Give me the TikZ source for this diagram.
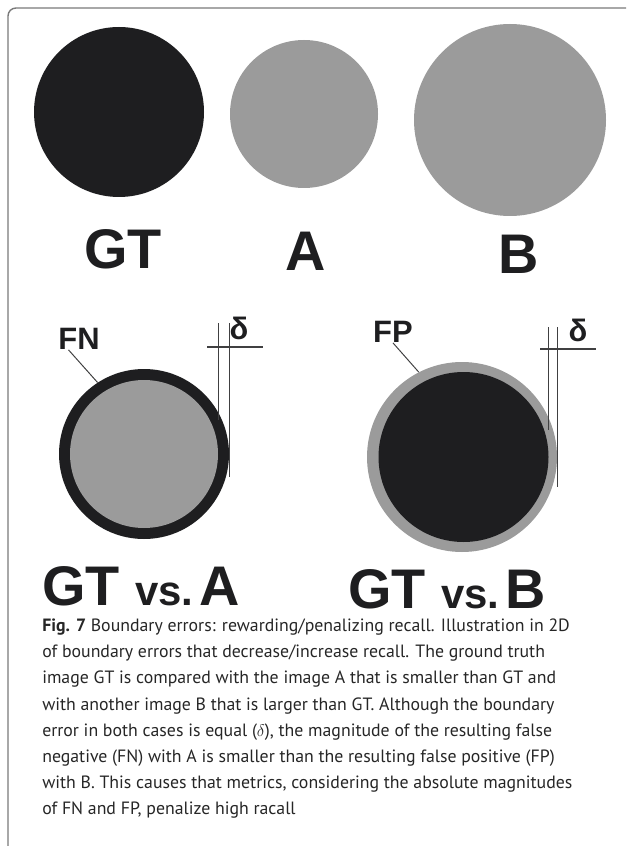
\documentclass[tikz,border=0pt]{standalone}
\usepackage{fontspec}
\setmainfont{PT Sans}
\newfontfamily\labfont{Liberation Sans}
\usetikzlibrary{calc}
\definecolor{dark}{HTML}{1E1E20}
\definecolor{midgrey}{HTML}{9B9B9B}
\definecolor{framegrey}{HTML}{7A7A7A}
\newlength{\pxu}\setlength{\pxu}{0.025cm}
\tikzset{
  disc/.style   = {circle, inner sep=0pt, draw=none},
  big/.style    = {font=\labfont\bfseries\fontsize{39.7}{40}\selectfont, text=dark,
                   inner sep=0pt, anchor=base},
  tag/.style    = {font=\labfont\bfseries\fontsize{22}{22}\selectfont, text=dark,
                   inner sep=0pt},
  dim/.style    = {draw=dark!85, line width=0.8pt},
  leader/.style = {draw=dark!85, line width=0.7pt},
  capt/.style   = {anchor=north west, align=left, inner sep=0pt,
                   font=\fontsize{12.65}{18.5}\selectfont, text=black!85},
  frame/.style  = {draw=framegrey, line width=1pt, rounded corners=0.2cm},
}
\newcommand{\vsf}{\fontsize{29.8}{30}\selectfont}

\begin{document}
\begin{tikzpicture}[x=0.025cm, y=-0.025cm]
  \useasboundingbox (0,0) rectangle (626,846);
  \draw[frame] (8,846) |- (626,8);

  % the three images
  \node[disc, fill=dark, minimum size=170\pxu] (gt) at (119,112) {};
  \node[disc, fill=midgrey, minimum size=148\pxu] (a) at (304,114) {};
  \node[disc, fill=midgrey, minimum size=192\pxu] (b) at (510,120) {};
  \node[big] (gtlab) at (123,268) {GT};
  \node[big] (alab) at (306,270) {A};
  \node[big] (blab) at (519,273) {B};

  % GT vs. A
  \node[disc, fill=dark, minimum size=170\pxu] (gta) at (144,454) {};
  \node[disc, fill=midgrey, minimum size=148\pxu] (ina) at (144,454) {};
  \node[tag] (fn) at (79,339) {FN};
  \draw[leader] ($(fn.south west)!0.25!(fn.south east)$) -- (gta.123);
  \draw[dim] (ina.east |- 0,323) -- (ina.east |- 0,420);
  \draw[dim] (gta.east |- 0,323) -- (gta.east |- 0,477);
  \draw[dim] (207,347) -- (263,347);
  \node[tag] (dla) at (239,328) {δ};
  \node[big, anchor=base west] (vsa) at (42,605) {GT {\vsf vs.}\hspace{4pt}A};

  % GT vs. B
  \node[disc, fill=midgrey, minimum size=190\pxu] (bb) at (462,457) {};
  \node[disc, fill=dark, minimum size=170\pxu] (gtb) at (463.5,457) {};
  \node[tag] (fp) at (393,332) {FP};
  \draw[leader] (fp.south) -- (bb.117);
  \draw[dim] (gtb.east |- 0,327) -- (gtb.east |- 0,430);
  \draw[dim] (bb.east |- 0,327) -- (bb.east |- 0,487);
  \draw[dim] (540,349) -- (596,349);
  \node[tag] (dlb) at (578,330) {δ};
  \node[big, anchor=base west] (vsb) at (348,608) {GT {\vsf vs.}\hspace{4pt}B};

  % caption
  \node[capt] (cap) at (42,619) {\textbf{Fig. 7} Boundary errors: rewarding/penalizing recall. Illustration in 2D\\
    of boundary errors that decrease/increase recall. The ground truth\\
    image GT is compared with the image A that is smaller than GT and\\
    with another image B that is larger than GT. Although the boundary\\
    error in both cases is equal ($\delta$), the magnitude of the resulting false\\
    negative (FN) with A is smaller than the resulting false positive (FP)\\
    with B. This causes that metrics, considering the absolute magnitudes\\
    of FN and FP, penalize high racall};
\end{tikzpicture}
\end{document}
